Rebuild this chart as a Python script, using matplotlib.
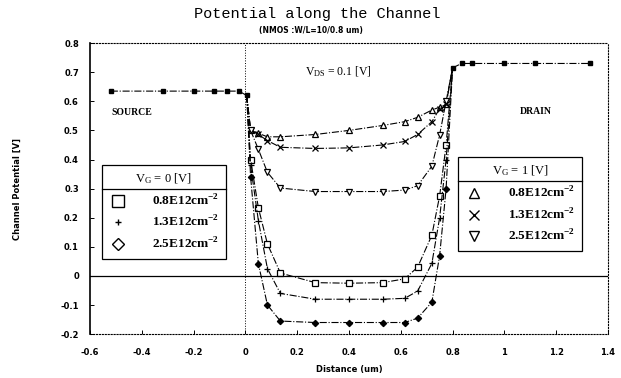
import matplotlib
matplotlib.use("Agg")
import matplotlib.pyplot as plt
from matplotlib.lines import Line2D
import numpy as np

# source / drain regions (common to all curves)
src_x = [-0.52, -0.32, -0.20, -0.12, -0.07, -0.025, 0.005]
src_y = [0.635, 0.635, 0.635, 0.635, 0.635, 0.635, 0.62]
drn_x = [0.80, 0.835, 0.875, 1.00, 1.12, 1.33]
drn_y = [0.715, 0.73, 0.73, 0.73, 0.73, 0.73]

# channel mesh
ch_x = [0.02, 0.05, 0.085, 0.135, 0.27, 0.40, 0.53, 0.615, 0.665, 0.72, 0.75, 0.775]

# Vg = 0 V
vg0_08 = [0.40, 0.234, 0.11, 0.01, -0.023, -0.025, -0.023, -0.01, 0.03, 0.14, 0.275, 0.45]
vg0_13 = [0.38, 0.19, 0.025, -0.06, -0.08, -0.08, -0.08, -0.077, -0.052, 0.043, 0.20, 0.40]
vg0_25 = [0.34, 0.042, -0.10, -0.155, -0.16, -0.16, -0.16, -0.16, -0.145, -0.09, 0.07, 0.30]
# Vg = 1 V
vg1_08 = [0.50, 0.49, 0.478, 0.478, 0.486, 0.50, 0.517, 0.53, 0.545, 0.57, 0.58, 0.59]
vg1_13 = [0.50, 0.486, 0.465, 0.442, 0.438, 0.44, 0.45, 0.462, 0.486, 0.53, 0.575, 0.59]
vg1_25 = [0.50, 0.435, 0.356, 0.302, 0.29, 0.29, 0.29, 0.295, 0.31, 0.377, 0.485, 0.60]

dens_labels = ['0.8E12cm$^{\\mathregular{-2}}$', '1.3E12cm$^{\\mathregular{-2}}$',
               '2.5E12cm$^{\\mathregular{-2}}$']

plt.rcParams['font.family'] = ['DejaVu Sans']
fig = plt.figure(figsize=(6.21, 3.78), dpi=100)
ax = fig.add_axes([0.145, 0.116, 0.834, 0.770])

# common source/drain
ax.plot(src_x, src_y, '-.', color='k', lw=0.8, marker='s', ms=3.5, mfc='k')
ax.plot(drn_x, drn_y, '-.', color='k', lw=0.8, marker='s', ms=3.5, mfc='k')

series = [
    (vg0_08, 's', 'white', 4),
    (vg0_13, '+', 'k', 4),
    (vg0_25, 'D', 'k', 3.2),
    (vg1_08, '^', 'white', 3.8),
    (vg1_13, 'x', 'k', 3.8),
    (vg1_25, 'v', 'white', 3.8),
]
for ys, mk, fc, ms in series:
    xx = [src_x[-1]] + ch_x + [drn_x[0]]
    yy = [src_y[-1]] + ys + [drn_y[0]]
    ax.plot(xx, yy, '-.', color='k', lw=0.8, marker=mk, ms=ms, mfc=fc,
            mec='k', mew=0.9, markevery=list(range(1, len(xx) - 1)))

ax.axhline(0, color='k', lw=0.9)
ax.axvline(0, color='k', lw=0.7, ls=':')

ax.set_xlim(-0.6, 1.4)
ax.set_ylim(-0.2, 0.8)
ax.set_xticks(np.arange(-0.6, 1.41, 0.2))
ax.set_xticklabels(['-0.6', '-0.4', '-0.2', '0', '0.2', '0.4', '0.6', '0.8', '1', '1.2', '1.4'])
ax.set_yticks(np.arange(-0.2, 0.81, 0.1))
ax.set_yticklabels(['-0.2', '-0.1', '0', '0.1', '0.2', '0.3', '0.4', '0.5', '0.6', '0.7', '0.8'])
ax.tick_params(labelsize=6, length=3, width=0.7, direction='in')
ax.tick_params(axis='x', pad=10)
ax.tick_params(axis='y', pad=8)
for lbl in ax.get_xticklabels() + ax.get_yticklabels():
    lbl.set_fontweight('bold')
ax.spines['left'].set_linewidth(1.2)
for s in ['top', 'right', 'bottom']:
    ax.spines[s].set_linestyle(':')
    ax.spines[s].set_linewidth(0.8)

ax.set_xlabel('Distance (um)', fontsize=6, fontweight='bold', labelpad=6)
ax.set_ylabel('Channel Potential [V]', fontsize=6, fontweight='bold', labelpad=28)

fig.text(0.51, 0.962, 'Potential along the Channel', ha='center', va='center',
         fontsize=11, family='Liberation Mono')
fig.text(0.50, 0.918, '(NMOS :W/L=10/0.8 um)', ha='center', va='center',
         fontsize=5.5, fontweight='bold')

ax.text(0.36, 0.70, '$\\mathregular{V_{DS}}$ = 0.1 [V]', ha='center', va='center',
        fontsize=8.5, family='Liberation Serif')
ax.text(-0.44, 0.56, 'SOURCE', ha='center', va='center', fontsize=7,
        family='Liberation Serif', fontweight='bold')
ax.text(1.12, 0.565, 'DRAIN', ha='center', va='center', fontsize=7,
        family='Liberation Serif', fontweight='bold')

def make_legend(title, specs, loc, anchor):
    handles = [Line2D([], [], ls='none', marker=mk, ms=ms, mfc='white', mec='k', mew=1.0)
               for mk, ms in specs]
    leg = ax.legend(handles, dens_labels, title=title, loc=loc, bbox_to_anchor=anchor,
                    frameon=True, fancybox=False, edgecolor='k', framealpha=1,
                    prop={'family': 'Liberation Serif', 'size': 9.5, 'weight': 'bold'},
                    title_fontproperties={'family': 'Liberation Serif', 'size': 9},
                    handlelength=1.4, handletextpad=1.9, labelspacing=0.5,
                    borderpad=0.5, borderaxespad=0)
    leg.get_frame().set_linewidth(0.9)
    return leg

leg0 = make_legend('$\\mathregular{V_G}$ = 0 [V]', [('s', 8), ('+', 5), ('D', 6.5)],
                   'upper left', (0.023, 0.581))
ax.add_artist(leg0)
leg1 = make_legend('$\\mathregular{V_G}$ = 1 [V]', [('^', 7), ('x', 7), ('v', 7)],
                   'upper right', (0.95, 0.608))

# separator line under each legend title
fig.canvas.draw()
inv = fig.transFigure.inverted()
for leg in (leg0, leg1):
    bb = leg.get_window_extent()
    tb = leg.get_title().get_window_extent()
    ysep = tb.y0 - 3
    (x0, y0), (x1, _) = inv.transform([(bb.x0, ysep), (bb.x1, ysep)])
    fig.add_artist(Line2D([x0, x1], [y0, y0], transform=fig.transFigure,
                          color='k', lw=0.9))

fig.savefig('out.png', dpi=100)
